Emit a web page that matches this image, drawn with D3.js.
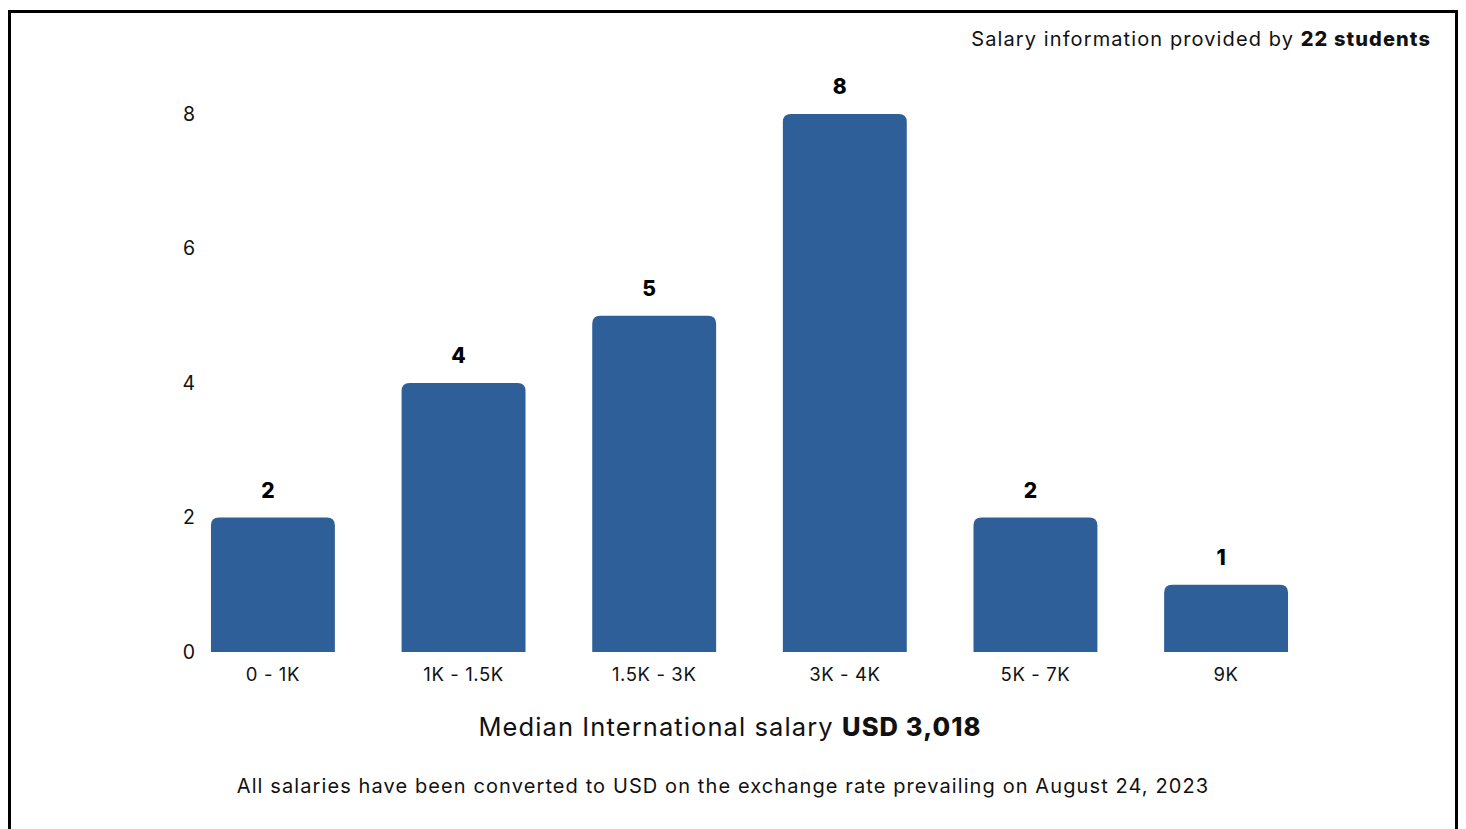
<!DOCTYPE html>
<html>
<head>
<meta charset="utf-8">
<script src="https://cdn.jsdelivr.net/npm/d3@7"></script>
<style>
  body { margin: 0; background: #fff; }
  svg { display: block; font-family: Inter, "Open Sans", sans-serif; }
</style>
</head>
<body>
<svg width="1466" height="829"></svg>
<script>
const categories = ['0 - 1K', '1K - 1.5K', '1.5K - 3K', '3K - 4K', '5K - 7K', '9K'];
const counts = [2, 4, 5, 8, 2, 1];
const yTicks = [0, 2, 4, 6, 8];

const svg = d3.select('svg');
const barColor = '#2e5f98';

// frame
svg.append('rect')
    .attr('x', 9.5).attr('y', 11.5)
    .attr('width', 1447).attr('height', 840)
    .style('fill', 'none')
    .style('stroke', '#000')
    .style('stroke-width', 3);

const x = d3.scaleBand()
    .domain(categories)
    .range([177.6, 1321.4])
    .paddingInner(0.35)
    .paddingOuter(0.175);

const y = d3.scaleLinear()
    .domain([0, 8])
    .range([652, 114]);

// y axis labels
const yAxis = svg.append('g')
    .attr('transform', 'translate(195,0)')
    .call(d3.axisLeft(y).tickValues(yTicks).tickSize(0).tickPadding(0));
yAxis.select('.domain').remove();
yAxis.selectAll('text')
    .style('font-family', 'Inter, sans-serif')
    .style('font-size', '19.5px')
    .style('fill', '#111');

// x axis labels
const xAxis = svg.append('g')
    .attr('transform', 'translate(0,652)')
    .call(d3.axisBottom(x).tickSize(0).tickPadding(16));
xAxis.select('.domain').remove();
xAxis.selectAll('text')
    .style('font-family', 'Inter, sans-serif')
    .style('font-size', '18.5px')
    .style('letter-spacing', '0.6px')
    .style('fill', '#111');

function barPath(d, i) {
    const x0 = x(categories[i]), w = x.bandwidth();
    const y0 = y(d), y1 = y(0), r = 8;
    return `M${x0},${y1}V${y0 + r}Q${x0},${y0} ${x0 + r},${y0}H${x0 + w - r}Q${x0 + w},${y0} ${x0 + w},${y0 + r}V${y1}Z`;
}

svg.append('g').selectAll('path')
    .data(counts)
    .enter()
    .append('path')
    .attr('d', barPath)
    .style('fill', barColor);

svg.append('g').selectAll('text')
    .data(counts)
    .enter()
    .append('text')
    .attr('x', (d, i) => x(categories[i]) + x.bandwidth() / 2 - 5)
    .attr('y', d => y(d) - 20)
    .style('text-anchor', 'middle')
    .style('font-size', '21px')
    .style('font-weight', 800)
    .style('fill', '#000')
    .text(d => d);

// header note
const header = svg.append('text')
    .attr('x', 1431).attr('y', 46)
    .style('text-anchor', 'end')
    .style('font-size', '20px')
    .style('letter-spacing', '1.1px')
    .style('fill', '#111');
header.append('tspan').text('Salary information provided by ');
header.append('tspan').style('font-weight', 800).text('22 students');

// median line
const med = svg.append('text')
    .attr('x', 730).attr('y', 736)
    .style('text-anchor', 'middle')
    .style('font-size', '25.5px')
    .style('letter-spacing', '1.1px')
    .style('fill', '#111');
med.append('tspan').text('Median International salary ');
med.append('tspan').style('font-weight', 800).text('USD 3,018');

svg.append('text')
    .attr('x', 723).attr('y', 793)
    .style('text-anchor', 'middle')
    .style('font-size', '20px')
    .style('letter-spacing', '1.1px')
    .style('fill', '#111')
    .text('All salaries have been converted to USD on the exchange rate prevailing on August 24, 2023');
</script>
</body>
</html>
